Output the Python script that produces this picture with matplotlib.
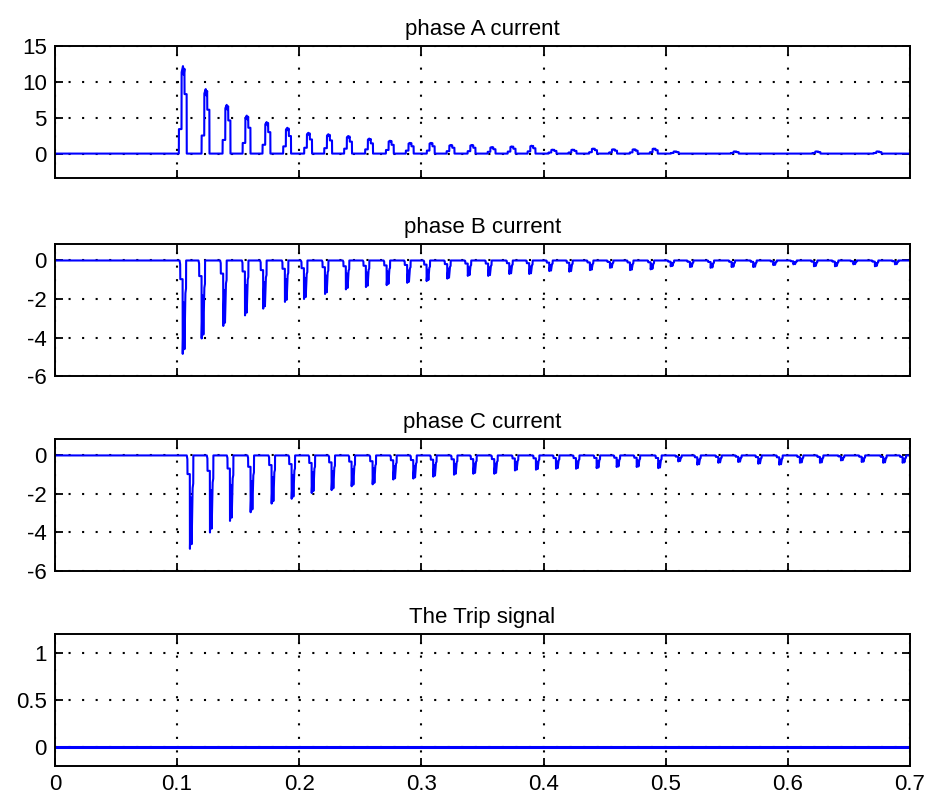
#!/usr/bin/env python3
import matplotlib
matplotlib.use('Agg')
import matplotlib.pyplot as plt

# pulse instants (s) and peak values
phase_a_times = [0.1048, 0.1234, 0.1406, 0.1570, 0.1733, 0.1902, 0.2074, 0.2238,
                 0.2401, 0.2573, 0.2743, 0.2906, 0.3078, 0.3240, 0.3412, 0.3576,
                 0.3740, 0.3903, 0.4075, 0.4239, 0.4407, 0.4571, 0.4740, 0.4904,
                 0.5076, 0.5567, 0.6236, 0.6736]
phase_a_peaks = [12.2, 9.0, 6.8, 5.3, 4.4, 3.6, 2.9, 2.7,
                 2.45, 2.1, 1.8, 1.5, 1.5, 1.2, 1.2, 0.9,
                 1.0, 1.1, 0.55, 0.55, 0.7, 0.6, 0.6, 0.7,
                 0.3, 0.3, 0.3, 0.3]

phase_b_times = [0.1046, 0.1201, 0.1378, 0.1556, 0.1705, 0.1883, 0.2039, 0.2211,
                 0.2382, 0.2546, 0.2716, 0.2884, 0.3043, 0.3212, 0.3380, 0.3547,
                 0.3720, 0.3883, 0.4047, 0.4211, 0.4380, 0.4544, 0.4708, 0.4877,
                 0.5041, 0.5199, 0.5368, 0.5540, 0.5717, 0.5881, 0.6045, 0.6214,
                 0.6386, 0.6536, 0.6713, 0.6877]
phase_b_depths = [-4.85, -4.05, -3.4, -2.85, -2.5, -2.15, -2.0, -1.74,
                  -1.5, -1.38, -1.28, -1.16, -1.07, -0.94, -0.8, -0.8,
                  -0.7, -0.7, -0.55, -0.58, -0.5, -0.38, -0.5, -0.46,
                  -0.3, -0.34, -0.38, -0.34, -0.34, -0.24, -0.2, -0.3,
                  -0.3, -0.2, -0.3, -0.2]

phase_c_times = [0.1105, 0.1269, 0.1433, 0.1602, 0.1774, 0.1938, 0.2102, 0.2265,
                 0.2429, 0.2601, 0.2770, 0.2934, 0.3097, 0.3267, 0.3425, 0.3597,
                 0.3766, 0.3938, 0.4102, 0.4266, 0.4435, 0.4599, 0.4763, 0.4939,
                 0.5103, 0.5259, 0.5431, 0.5594, 0.5758, 0.5930, 0.6099, 0.6263,
                 0.6435, 0.6605, 0.6781, 0.6940]
phase_c_depths = [-4.85, -4.0, -3.4, -2.95, -2.5, -2.25, -1.95, -1.8,
                  -1.6, -1.5, -1.25, -1.2, -1.1, -1.0, -0.95, -0.95,
                  -0.78, -0.74, -0.69, -0.69, -0.66, -0.6, -0.6, -0.66,
                  -0.31, -0.48, -0.38, -0.34, -0.43, -0.48, -0.38, -0.38,
                  -0.26, -0.34, -0.38, -0.38]

trip_times = [0.0, 0.7]
trip_values = [0.0, 0.0]

# rough shape of one pulse: (time offset from main peak, fraction of peak)
pulse_a_shape = [(-0.0034, 0.0), (-0.0033, 0.28), (-0.0012, 0.28), (-0.0011, 0.93),
                 (0.0, 1.0), (0.0006, 0.9), (0.0012, 0.97), (0.0013, 0.68),
                 (0.0030, 0.68), (0.0031, 0.0)]
pulse_bc_shape = [(-0.0026, 0.0), (-0.0021, 0.04), (-0.0020, 0.2), (-0.0001, 0.2),
                  (0.0, 1.0), (0.0008, 0.45), (0.0014, 0.95), (0.0022, 0.35),
                  (0.0027, 0.3), (0.0028, 0.0)]

xticks = [0, 0.1, 0.2, 0.3, 0.4, 0.5, 0.6, 0.7]
xticklabels = ['0', '0.1', '0.2', '0.3', '0.4', '0.5', '0.6', '0.7']


def pulse_train(times, peaks, shape):
    t = [0.0]
    y = [0.0]
    for tc, p in zip(times, peaks):
        for dt, f in shape:
            t.append(tc + dt)
            y.append(f * p)
    t.append(0.7)
    y.append(0.0)
    return t, y


plt.rcParams['font.family'] = ['Liberation Sans', 'DejaVu Sans']

fig = plt.figure(figsize=(9.3, 7.97), dpi=100)

panels = [
    ('phase A current', pulse_train(phase_a_times, phase_a_peaks, pulse_a_shape),
     (-3.4, 15), [0, 5, 10, 15], ['0', '5', '10', '15'], 0.7767),
    ('phase B current', pulse_train(phase_b_times, phase_b_depths, pulse_bc_shape),
     (-6, 0.85), [-6, -4, -2, 0], ['-6', '-4', '-2', '0'], 0.5282),
    ('phase C current', pulse_train(phase_c_times, phase_c_depths, pulse_bc_shape),
     (-6, 0.85), [-6, -4, -2, 0], ['-6', '-4', '-2', '0'], 0.2836),
    ('The Trip signal', (trip_times, trip_values),
     (-0.2, 1.2), [0, 0.5, 1], ['0', '0.5', '1'], 0.0389),
]

for i, (title, (t, y), ylim, yt, ytl, bottom) in enumerate(panels):
    ax = fig.add_axes([0.0591, bottom, 0.9194, 0.1655])
    ax.plot(t, y, color='#0000ff', linewidth=1.5 if i < 3 else 2.2)
    ax.set_xlim(0, 0.7)
    ax.set_ylim(*ylim)
    ax.set_yticks(yt)
    ax.set_yticklabels(ytl)
    ax.set_xticks(xticks)
    if i == 3:
        ax.set_xticklabels(xticklabels)
    else:
        ax.set_xticklabels([])
    ax.grid(True, color='black', linestyle=(0, (1, 5.5)), linewidth=1.5)
    ax.tick_params(direction='in', length=6, width=1.3, top=True, right=True,
                   labelsize=16, pad=6)
    for s in ax.spines.values():
        s.set_linewidth(1.4)
    ax.set_title(title, fontsize=16, pad=8)

plt.savefig('out.png', dpi=100)
